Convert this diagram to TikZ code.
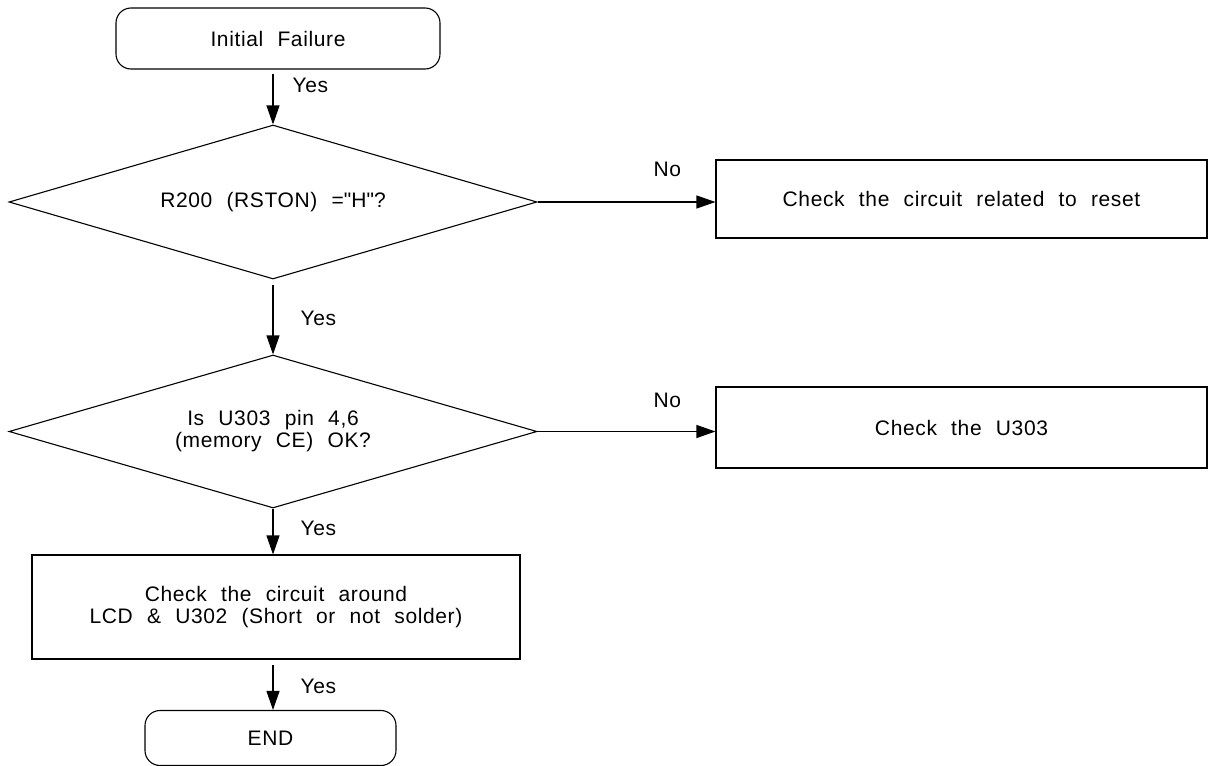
\documentclass[tikz,border=0pt]{standalone}
\usepackage{fontspec}
\setmainfont{Liberation Sans}[WordSpace=2.2,LetterSpace=3]
\usetikzlibrary{shapes.geometric,arrows.meta}
\begin{document}
\begin{tikzpicture}[x=1pt,y=-1pt,line width=1.1pt,
  every node/.style={font=\fontsize{21}{22}\selectfont,align=center},
  term/.style={draw,rounded corners=15pt,minimum width=324pt,minimum height=61pt,inner sep=0pt},
  stepbox/.style={draw,minimum width=491pt,minimum height=80pt,inner sep=0pt},
  test/.style={draw,diamond,shape aspect=3.43,minimum width=528pt,minimum height=154pt,inner sep=0pt},
  link/.style={-{Triangle[length=19pt,width=13pt]}},
  lbl/.style={inner sep=0pt,anchor=west}]
\useasboundingbox (0,0) rectangle (1208,766);
\node[term] (start) at (278,38.5) {Initial Failure};
\node[test] (d1) at (273,202) {R200 (RSTON) =\textquotedbl H\textquotedbl ?};
\node[stepbox,minimum height=78pt] (reset) at (961.5,199) {Check the circuit related to reset};
\node[test,minimum height=153pt] (d2) at (273,431.5) {Is U303 pin 4,6\\(memory CE) OK?};
\node[stepbox,minimum height=81pt] (u303) at (961.5,427.5) {Check the U303};
\node[stepbox,minimum width=488pt,minimum height=104pt] (lcd) at (276,607) {Check the circuit around\\LCD \& U302 (Short or not solder)};
\node[term,minimum width=251pt,minimum height=55pt] (end) at (270.5,738) {END};
\node[lbl] (yes1) at (292,85) {Yes};
\node[lbl] (yes2) at (300,318) {Yes};
\node[lbl] (yes3) at (300,528) {Yes};
\node[lbl] (yes4) at (300,686) {Yes};
\node[lbl] (no1) at (653,169) {No};
\node[lbl] (no2) at (653,400) {No};
\draw[link,shorten <=4pt] (start.south -| d1.north) -- (d1.north);
\draw[link,shorten <=5pt] (d1.south) -- (d2.north);
\draw[link] (d2.south) -- (d2.south |- lcd.north);
\draw[link,shorten <=5pt] (d2.south |- lcd.south) -- (d2.south |- end.north);
\draw[link] (d1.east) -- (d1.east -| reset.west);
\draw[link] (d2.east) -- (d2.east -| u303.west);
\end{tikzpicture}
\end{document}
